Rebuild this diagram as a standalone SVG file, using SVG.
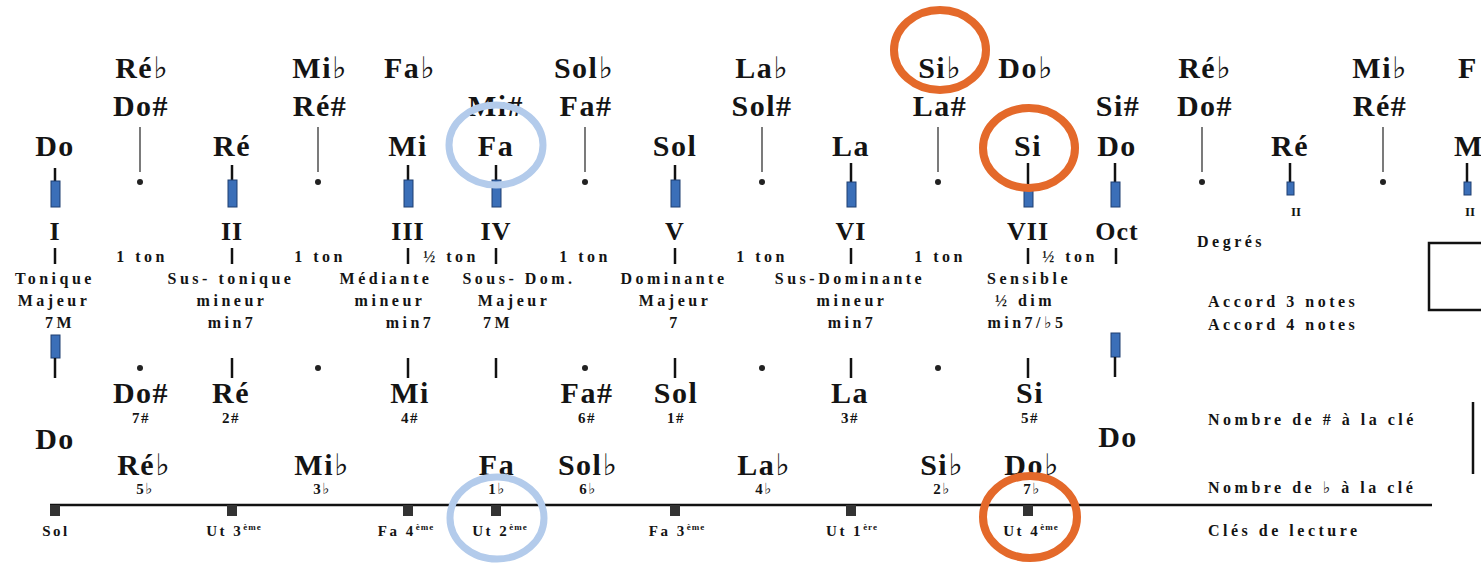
<svg xmlns="http://www.w3.org/2000/svg" width="1481" height="563" viewBox="0 0 1481 563">
<style>
text{font-family:"Liberation Serif","DejaVu Serif",serif;font-weight:bold;fill:#141414;text-anchor:middle}
.f{font-family:"DejaVu Sans","DejaVu Serif",sans-serif;font-weight:bold;fill:#141414}
.n{font-size:30px;letter-spacing:1.5px}
.rn{font-size:26px;letter-spacing:1px}
.sm{font-size:13px}
.l{font-size:16px;letter-spacing:3.5px}
.r{text-anchor:start}
.c{font-size:15px;letter-spacing:1.5px}
.cl{font-size:15px;letter-spacing:2.5px}
.sup{font-size:9px;letter-spacing:1px}
.bar{fill:#3b6fb8;stroke:#1f3f70;stroke-width:1}
.tk{stroke:#111;stroke-width:2.5}
.al{stroke:#333;stroke-width:1.3}
.dot{fill:#222}
.oc{fill:none;stroke:#E4692A;stroke-width:8}
.bc{fill:none;stroke:#B3CBEB;stroke-width:7}
.sq{fill:#333}
</style>
<rect width="1481" height="563" fill="#fff"/>

<g id="row-flats-top">
<text class="n" x="142" y="78">Ré<tspan class="f">♭</tspan></text>
<text class="n" x="320" y="78">Mi<tspan class="f">♭</tspan></text>
<text class="n" x="410" y="78">Fa<tspan class="f">♭</tspan></text>
<text class="n" x="584" y="78">Sol<tspan class="f">♭</tspan></text>
<text class="n" x="762" y="78">La<tspan class="f">♭</tspan></text>
<text class="n" x="940" y="78">Si<tspan class="f">♭</tspan></text>
<text class="n" x="1026" y="78">Do<tspan class="f">♭</tspan></text>
<text class="n" x="1205" y="78">Ré<tspan class="f">♭</tspan></text>
<text class="n" x="1380" y="78">Mi<tspan class="f">♭</tspan></text>
<text class="n r" x="1458" y="78">F</text>
</g>
<g id="row-sharps-top">
<text class="n" x="141" y="116">Do#</text>
<text class="n" x="320" y="116">Ré#</text>
<text class="n" x="496" y="116">Mi#</text>
<text class="n" x="586" y="116">Fa#</text>
<text class="n" x="762" y="116">Sol#</text>
<text class="n" x="940" y="116">La#</text>
<text class="n" x="1118" y="116">Si#</text>
<text class="n" x="1205" y="116">Do#</text>
<text class="n" x="1380" y="116">Ré#</text>
</g>
<g id="row-naturals-top">
<text class="n" x="55" y="156">Do</text>
<text class="n" x="232" y="156">Ré</text>
<text class="n" x="408" y="156">Mi</text>
<text class="n" x="496" y="156">Fa</text>
<text class="n" x="675" y="156">Sol</text>
<text class="n" x="851" y="156">La</text>
<text class="n" x="1028" y="156">Si</text>
<text class="n" x="1117" y="156">Do</text>
<text class="n" x="1290" y="156">Ré</text>
<text class="n r" x="1454" y="156">M</text>
</g>

<g id="connectors">
<g id="accidental-stems">
<line class="al" x1="140" y1="127" x2="140" y2="172"/><circle class="dot" cx="140" cy="182" r="3"/>
<line class="al" x1="318" y1="127" x2="318" y2="172"/><circle class="dot" cx="318" cy="182" r="3"/>
<line class="al" x1="585" y1="127" x2="585" y2="172"/><circle class="dot" cx="585" cy="182" r="3"/>
<line class="al" x1="762" y1="127" x2="762" y2="172"/><circle class="dot" cx="762" cy="182" r="3"/>
<line class="al" x1="938" y1="127" x2="938" y2="172"/><circle class="dot" cx="938" cy="182" r="3"/>
<line class="al" x1="1202" y1="127" x2="1202" y2="172"/><circle class="dot" cx="1202" cy="182" r="3"/>
<line class="al" x1="1383" y1="127" x2="1383" y2="172"/><circle class="dot" cx="1383" cy="182" r="3"/>
</g>
<g id="natural-stems">
<line class="tk" x1="55" y1="168" x2="55" y2="182"/><rect class="bar" x="51" y="181" width="9" height="26"/>
<line class="tk" x1="232" y1="165" x2="232" y2="181"/><rect class="bar" x="228" y="180" width="9" height="27"/>
<line class="tk" x1="408" y1="165" x2="408" y2="181"/><rect class="bar" x="404" y="180" width="9" height="27"/>
<line class="tk" x1="496" y1="165" x2="496" y2="181"/><rect class="bar" x="492" y="180" width="9" height="27"/>
<line class="tk" x1="675" y1="165" x2="675" y2="181"/><rect class="bar" x="671" y="180" width="9" height="27"/>
<line class="tk" x1="851" y1="163" x2="851" y2="183"/><rect class="bar" x="847" y="182" width="9" height="25"/>
<line class="tk" x1="1028" y1="163" x2="1028" y2="191"/><rect class="bar" x="1024" y="190" width="9" height="17"/>
<line class="tk" x1="1115" y1="163" x2="1115" y2="183"/><rect class="bar" x="1111" y="182" width="9" height="25"/>
<line class="tk" x1="1290" y1="163" x2="1290" y2="183"/><rect class="bar" x="1287" y="182" width="7" height="13"/>
<line class="tk" x1="1467" y1="163" x2="1467" y2="183"/><rect class="bar" x="1464" y="182" width="7" height="13"/>
</g>
<g id="interval-ticks">
<line class="tk" x1="55" y1="248" x2="55" y2="264"/>
<line class="tk" x1="232" y1="248" x2="232" y2="264"/>
<line class="tk" x1="408" y1="248" x2="408" y2="264"/>
<line class="tk" x1="496" y1="248" x2="496" y2="264"/>
<line class="tk" x1="675" y1="248" x2="675" y2="264"/>
<line class="tk" x1="851" y1="248" x2="851" y2="264"/>
<line class="tk" x1="1028" y1="248" x2="1028" y2="264"/>
<line class="tk" x1="1116" y1="248" x2="1116" y2="264"/>
</g>
<g id="lower-stems">
<rect class="bar" x="51" y="335" width="9" height="23"/><line class="tk" x1="55" y1="358" x2="55" y2="378"/>
<rect class="bar" x="1111" y="333" width="9" height="24"/><line class="tk" x1="1115" y1="357" x2="1115" y2="377"/>
<line class="tk" x1="232" y1="358" x2="232" y2="378"/>
<line class="tk" x1="408" y1="358" x2="408" y2="378"/>
<line class="tk" x1="496" y1="358" x2="496" y2="378"/>
<line class="tk" x1="675" y1="358" x2="675" y2="378"/>
<line class="tk" x1="851" y1="358" x2="851" y2="378"/>
<line class="tk" x1="1028" y1="358" x2="1028" y2="378"/>
<circle class="dot" cx="140" cy="368" r="3"/>
<circle class="dot" cx="318" cy="368" r="3"/>
<circle class="dot" cx="585" cy="368" r="3"/>
<circle class="dot" cx="762" cy="368" r="3"/>
<circle class="dot" cx="938" cy="368" r="3"/>
</g>
<g id="clef-line">
<line x1="50" y1="505" x2="1432" y2="505" stroke="#111" stroke-width="2.5"/>
<rect class="sq" x="50" y="505" width="10" height="11"/>
<rect class="sq" x="227" y="505" width="10" height="11"/>
<rect class="sq" x="403" y="505" width="10" height="11"/>
<rect class="sq" x="491" y="505" width="10" height="11"/>
<rect class="sq" x="670" y="505" width="10" height="11"/>
<rect class="sq" x="846" y="505" width="10" height="11"/>
<rect class="sq" x="1023" y="505" width="10" height="11"/>
</g>
</g>

<g id="degrees">
<text class="rn" x="55" y="240">I</text>
<text class="rn" x="232" y="240">II</text>
<text class="rn" x="408" y="240">III</text>
<text class="rn" x="496" y="240">IV</text>
<text class="rn" x="675" y="240">V</text>
<text class="rn" x="851" y="240">VI</text>
<text class="rn" x="1028" y="240">VII</text>
<text class="rn" x="1117" y="240">Oct</text>
<text class="sm" x="1296" y="216">II</text>
<text class="sm" x="1470" y="216">II</text>
</g>
<g id="intervals">
<text class="l" x="142" y="262">1 ton</text>
<text class="l" x="320" y="262">1 ton</text>
<text class="l" x="451" y="262">½ ton</text>
<text class="l" x="585" y="262">1 ton</text>
<text class="l" x="762" y="262">1 ton</text>
<text class="l" x="940" y="262">1 ton</text>
<text class="l" x="1070" y="262">½ ton</text>
</g>
<g id="functions">
<text class="l" x="55" y="284">Tonique</text>
<text class="l" x="54" y="306">Majeur</text>
<text class="l" x="60" y="328">7M</text>
<text class="l" x="231" y="284">Sus- tonique</text>
<text class="l" x="232" y="306">mineur</text>
<text class="l" x="232" y="328">min7</text>
<text class="l" x="386" y="284">Médiante</text>
<text class="l" x="390" y="306">mineur</text>
<text class="l" x="410" y="328">min7</text>
<text class="l" x="519" y="284">Sous- Dom.</text>
<text class="l" x="514" y="306">Majeur</text>
<text class="l" x="498" y="328">7M</text>
<text class="l" x="674" y="284">Dominante</text>
<text class="l" x="675" y="306">Majeur</text>
<text class="l" x="675" y="328">7</text>
<text class="l" x="850" y="284">Sus-Dominante</text>
<text class="l" x="852" y="306">mineur</text>
<text class="l" x="852" y="328">min7</text>
<text class="l" x="1029" y="284">Sensible</text>
<text class="l" x="1025" y="306">½ dim</text>
<text class="l" x="1027" y="328">min7/<tspan class="f">♭</tspan>5</text>
</g>

<g id="row-sharps-bottom">
<text class="n" x="141" y="403">Do#</text>
<text class="n" x="231" y="403">Ré</text>
<text class="n" x="410" y="403">Mi</text>
<text class="n" x="587" y="403">Fa#</text>
<text class="n" x="676" y="403">Sol</text>
<text class="n" x="850" y="403">La</text>
<text class="n" x="1030" y="403">Si</text>
<text class="c" x="141" y="423">7#</text>
<text class="c" x="231" y="423">2#</text>
<text class="c" x="410" y="423">4#</text>
<text class="c" x="587" y="423">6#</text>
<text class="c" x="676" y="423">1#</text>
<text class="c" x="850" y="423">3#</text>
<text class="c" x="1030" y="423">5#</text>
</g>
<g id="do-tonic">
<text class="n" x="55" y="449">Do</text>
<text class="n" x="1118" y="447">Do</text>
</g>
<g id="row-flats-bottom">
<text class="n" x="144" y="475">Ré<tspan class="f">♭</tspan></text>
<text class="n" x="322" y="475">Mi<tspan class="f">♭</tspan></text>
<text class="n" x="497" y="475">Fa</text>
<text class="n" x="588" y="475">Sol<tspan class="f">♭</tspan></text>
<text class="n" x="764" y="475">La<tspan class="f">♭</tspan></text>
<text class="n" x="942" y="475">Si<tspan class="f">♭</tspan></text>
<text class="n" x="1032" y="475">Do<tspan class="f">♭</tspan></text>
<text class="c" x="145" y="494">5<tspan class="f">♭</tspan></text>
<text class="c" x="322" y="494">3<tspan class="f">♭</tspan></text>
<text class="c" x="497" y="494">1<tspan class="f">♭</tspan></text>
<text class="c" x="588" y="494">6<tspan class="f">♭</tspan></text>
<text class="c" x="764" y="494">4<tspan class="f">♭</tspan></text>
<text class="c" x="942" y="494">2<tspan class="f">♭</tspan></text>
<text class="c" x="1032" y="494">7<tspan class="f">♭</tspan></text>
</g>
<g id="clefs">
<text class="cl" x="56" y="536">Sol</text>
<text class="cl" x="234" y="536">Ut 3<tspan class="sup" dy="-6">ème</tspan></text>
<text class="cl" x="406" y="536">Fa 4<tspan class="sup" dy="-6">ème</tspan></text>
<text class="cl" x="500" y="536">Ut 2<tspan class="sup" dy="-6">ème</tspan></text>
<text class="cl" x="677" y="536">Fa 3<tspan class="sup" dy="-6">ème</tspan></text>
<text class="cl" x="852" y="536">Ut 1<tspan class="sup" dy="-6">ère</tspan></text>
<text class="cl" x="1031" y="536">Ut 4<tspan class="sup" dy="-6">ème</tspan></text>
</g>
<g id="legend">
<text class="l r" x="1197" y="247">Degrés</text>
<text class="l r" x="1208" y="307">Accord 3 notes</text>
<text class="l r" x="1208" y="330">Accord 4 notes</text>
<text class="l r" x="1208" y="425">Nombre de # à la clé</text>
<text class="l r" x="1208" y="493">Nombre de <tspan class="f">♭</tspan> à la clé</text>
<text class="l r" x="1208" y="536">Clés de lecture</text>
<path d="M1481 243 H1429 V310 H1481" fill="none" stroke="#111" stroke-width="2.5"/>
<line x1="1473" y1="402" x2="1473" y2="474" stroke="#111" stroke-width="2.5"/>
</g>
<g id="highlights">
<ellipse class="bc" cx="496" cy="145" rx="47" ry="40"/>
<ellipse class="bc" cx="497" cy="518" rx="47" ry="41"/>
<ellipse class="oc" cx="940" cy="50" rx="46" ry="40"/>
<ellipse class="oc" cx="1029" cy="148" rx="46" ry="40"/>
<ellipse class="oc" cx="1030" cy="517" rx="47" ry="41"/>
</g>
</svg>
